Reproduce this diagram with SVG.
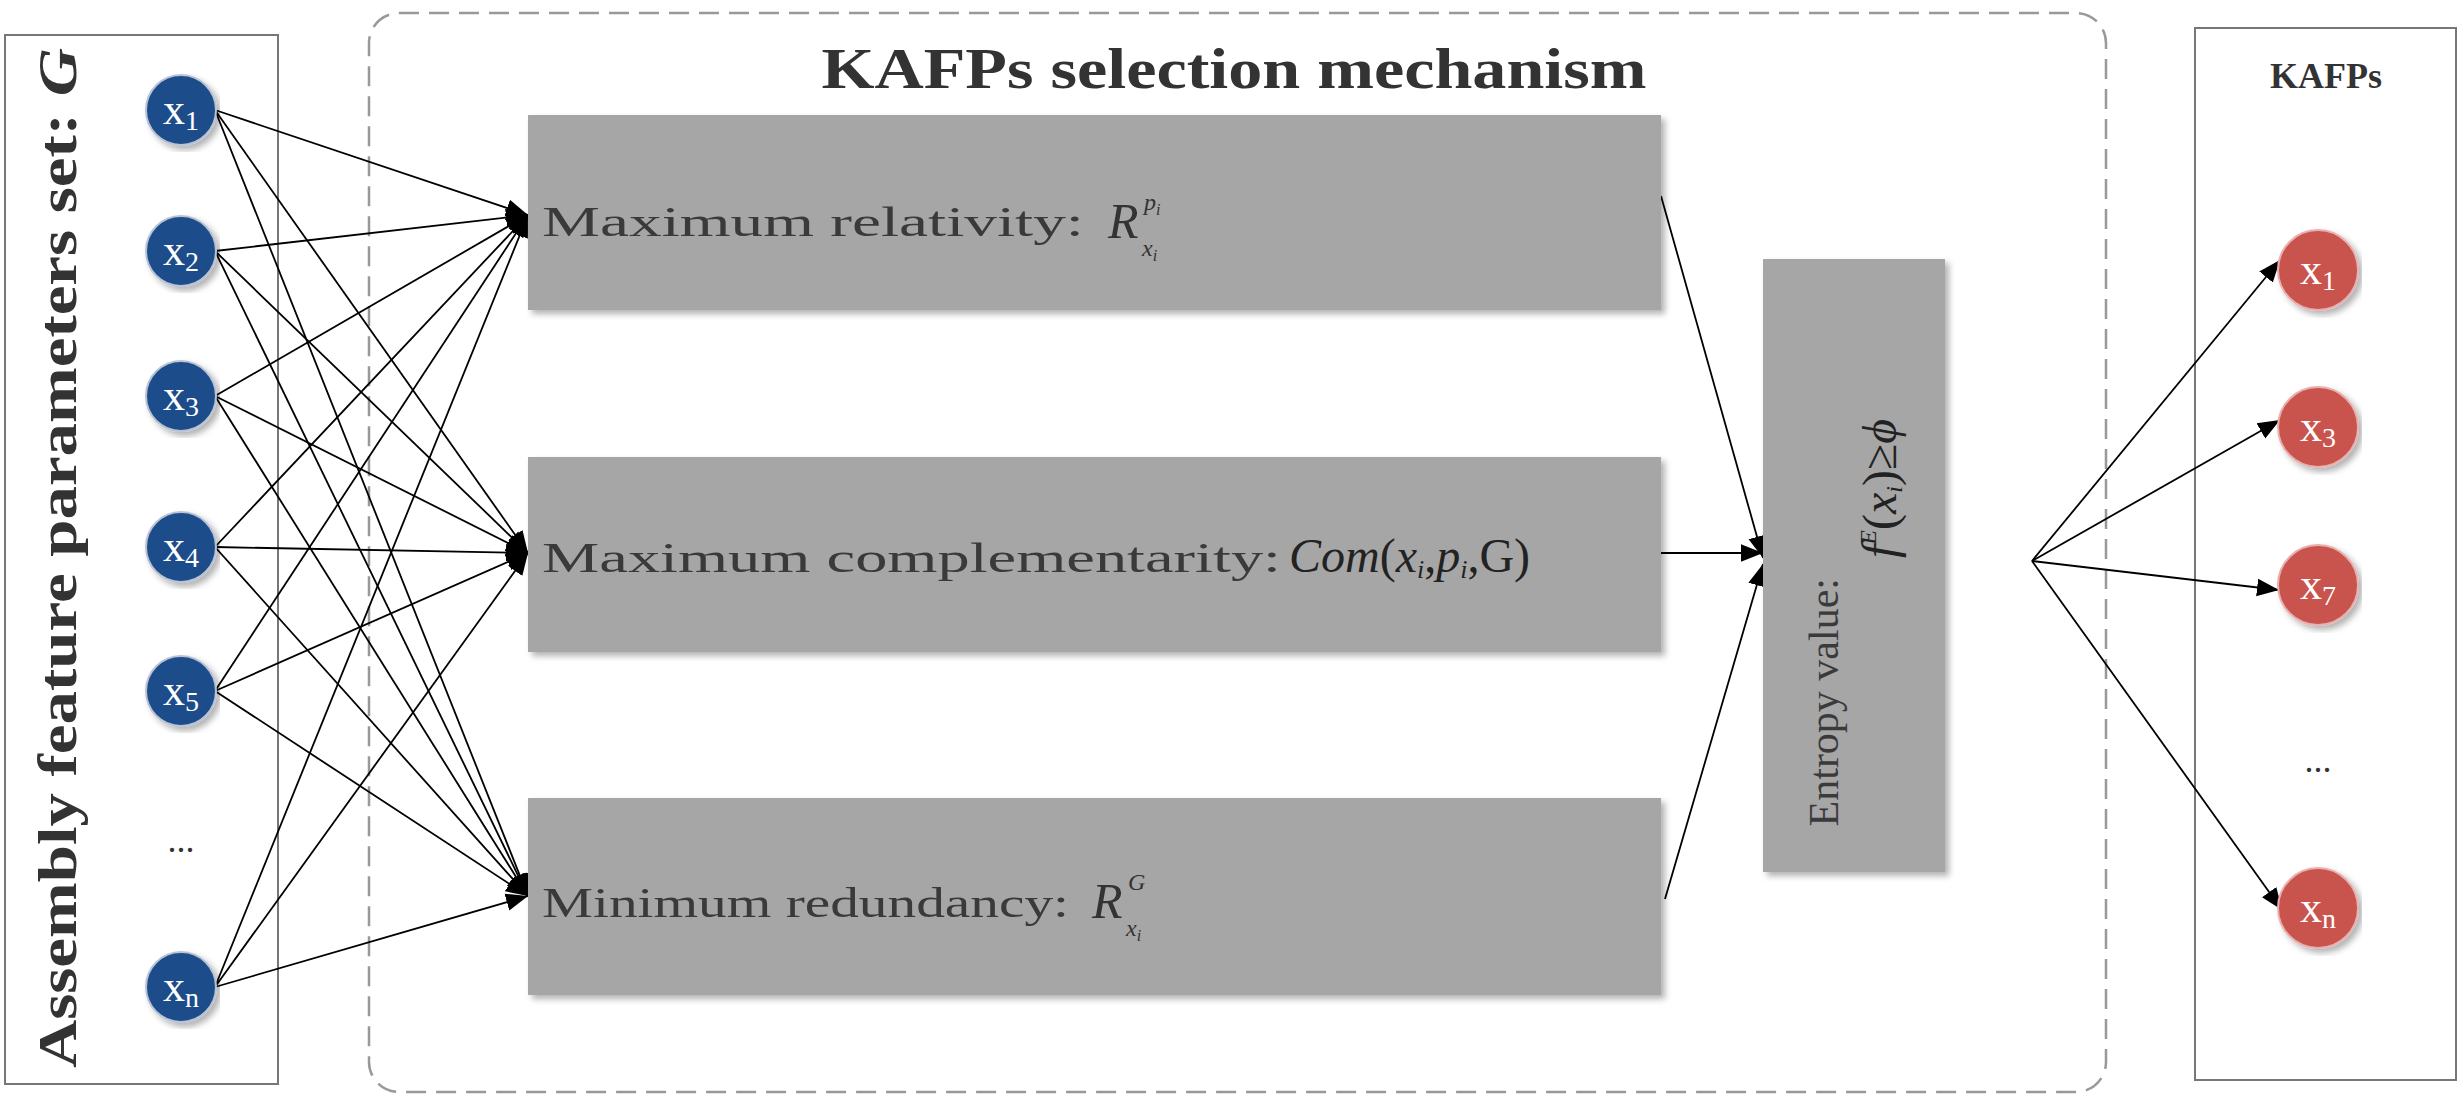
<svg xmlns="http://www.w3.org/2000/svg" width="2464" height="1115" viewBox="0 0 2464 1115">
<defs>
<marker id="ah" viewBox="0 0 10 10" refX="10" refY="5" markerWidth="9" markerHeight="9" markerUnits="userSpaceOnUse" orient="auto"><path d="M0,0 L10,5 L0,10 z" fill="#000"/></marker>
<marker id="ah2" viewBox="0 0 10 10" refX="10" refY="5" markerWidth="22" markerHeight="22" markerUnits="userSpaceOnUse" orient="auto"><path d="M0,1 L10,5 L0,9 z" fill="#000"/></marker>
<filter id="sh" x="-5%" y="-5%" width="110%" height="115%"><feDropShadow dx="4" dy="4" stdDeviation="3" flood-color="#000" flood-opacity="0.3"/></filter>
</defs>
<style>
.t{font-family:"Liberation Serif",serif}
.gb{fill:#a6a6a6;filter:url(#sh)}
.bl{fill:#1f4e8a;stroke:#b8c4d6;stroke-width:2;filter:url(#sh)}
.rd{fill:#c9534d;stroke:#e8b0ae;stroke-width:2;filter:url(#sh)}
.nt{fill:#fff;font-size:44px}
.bt{fill:#3a3a3a;font-size:42px}
.ln{stroke:#000;stroke-width:1.8;fill:none;marker-end:url(#ah2)}
</style>
<rect width="2464" height="1115" fill="#fff"/>
<g id="inputSet">
<rect x="5" y="35" width="273" height="1049" fill="#fff" stroke="#777" stroke-width="2"/>
<text class="t" font-weight="bold" font-size="54" fill="#333" transform="translate(76,558) rotate(-90)" text-anchor="middle" textLength="1020" lengthAdjust="spacingAndGlyphs">Assembly feature parameters set: <tspan font-style="italic">G</tspan></text>
</g>
<g id="mechanism">
<rect x="369" y="13" width="1737" height="1079" rx="30" fill="#fff" stroke="#999" stroke-width="2.5" stroke-dasharray="20,10"/>
<text class="t" x="1234" y="88" font-weight="bold" font-size="58" fill="#333" text-anchor="middle" textLength="825" lengthAdjust="spacingAndGlyphs">KAFPs selection mechanism</text>
</g>
<g id="outputSet">
<rect x="2195" y="28" width="261" height="1052" fill="#fff" stroke="#777" stroke-width="2"/>
<text class="t" x="2326" y="88" font-weight="bold" font-size="36" fill="#333" text-anchor="middle">KAFPs</text>
</g>
<g id="connectors">
<g id="c1">
<line class="ln" x1="215" y1="110" x2="528" y2="215"/><line class="ln" x1="215" y1="110" x2="528" y2="553"/><line class="ln" x1="215" y1="110" x2="528" y2="896"/>
<line class="ln" x1="215" y1="251" x2="528" y2="215"/><line class="ln" x1="215" y1="251" x2="528" y2="553"/><line class="ln" x1="215" y1="251" x2="528" y2="896"/>
<line class="ln" x1="215" y1="396" x2="528" y2="215"/><line class="ln" x1="215" y1="396" x2="528" y2="553"/><line class="ln" x1="215" y1="396" x2="528" y2="896"/>
<line class="ln" x1="215" y1="547" x2="528" y2="215"/><line class="ln" x1="215" y1="547" x2="528" y2="553"/><line class="ln" x1="215" y1="547" x2="528" y2="896"/>
<line class="ln" x1="215" y1="691" x2="528" y2="215"/><line class="ln" x1="215" y1="691" x2="528" y2="553"/><line class="ln" x1="215" y1="691" x2="528" y2="896"/>
<line class="ln" x1="215" y1="987" x2="528" y2="215"/><line class="ln" x1="215" y1="987" x2="528" y2="553"/><line class="ln" x1="215" y1="987" x2="528" y2="896"/>
</g>
<line class="ln" x1="1661" y1="196" x2="1763" y2="558"/>
<line class="ln" x1="1661" y1="553" x2="1763" y2="553"/>
<line class="ln" x1="1665" y1="899" x2="1763" y2="564"/>
<line class="ln" x1="2032" y1="561" x2="2280" y2="260"/>
<line class="ln" x1="2032" y1="561" x2="2280" y2="420"/>
<line class="ln" x1="2032" y1="561" x2="2279" y2="590"/>
<line class="ln" x1="2032" y1="561" x2="2282" y2="910"/>
</g>
<g id="nodesIn" class="t">
<g id="in1"><circle class="bl" cx="181" cy="110" r="35"/><text class="nt" x="181" y="124" text-anchor="middle">x<tspan font-size="28" dy="6">1</tspan></text></g>
<g id="in2"><circle class="bl" cx="181" cy="251" r="35"/><text class="nt" x="181" y="265" text-anchor="middle">x<tspan font-size="28" dy="6">2</tspan></text></g>
<g id="in3"><circle class="bl" cx="181" cy="396" r="35"/><text class="nt" x="181" y="410" text-anchor="middle">x<tspan font-size="28" dy="6">3</tspan></text></g>
<g id="in4"><circle class="bl" cx="181" cy="547" r="35"/><text class="nt" x="181" y="561" text-anchor="middle">x<tspan font-size="28" dy="6">4</tspan></text></g>
<g id="in5"><circle class="bl" cx="181" cy="691" r="35"/><text class="nt" x="181" y="705" text-anchor="middle">x<tspan font-size="28" dy="6">5</tspan></text></g>
<text x="181" y="852" font-size="36" fill="#333" text-anchor="middle">...</text>
<g id="inN"><circle class="bl" cx="181" cy="987" r="35"/><text class="nt" x="181" y="1001" text-anchor="middle">x<tspan font-size="28" dy="6">n</tspan></text></g>
</g>
<g id="boxRel" class="t"><rect class="gb" x="528" y="115" width="1133" height="195"/>
<text class="bt" x="542" y="236" textLength="542" lengthAdjust="spacingAndGlyphs">Maximum relativity:</text>
<text x="1108" y="238" font-size="50" font-style="italic" fill="#333">R</text><text x="1144" y="210" font-size="24" font-style="italic" fill="#333">p<tspan font-size="16" dy="5">i</tspan></text><text x="1142" y="256" font-size="24" font-style="italic" fill="#333">x<tspan font-size="16" dy="5">i</tspan></text>
</g>
<g id="boxCom" class="t"><rect class="gb" x="528" y="457" width="1133" height="195"/>
<text class="bt" x="542" y="572" textLength="739" lengthAdjust="spacingAndGlyphs">Maximum complementarity:</text>
<text x="1289" y="572" font-size="48" fill="#222"><tspan font-style="italic">Com</tspan>(<tspan font-style="italic">x</tspan><tspan font-size="26" font-style="italic" dy="6">i</tspan><tspan dy="-6">,</tspan><tspan font-style="italic">p</tspan><tspan font-size="26" font-style="italic" dy="6">i</tspan><tspan dy="-6">,G)</tspan></text>
</g>
<g id="boxRed" class="t"><rect class="gb" x="528" y="798" width="1133" height="197"/>
<text class="bt" x="542" y="917" textLength="527" lengthAdjust="spacingAndGlyphs">Minimum redundancy:</text>
<text x="1092" y="918" font-size="50" font-style="italic" fill="#333">R</text><text x="1128" y="890" font-size="24" font-style="italic" fill="#333">G</text><text x="1126" y="936" font-size="24" font-style="italic" fill="#333">x<tspan font-size="16" dy="5">i</tspan></text>
</g>
<g id="entropy" class="t"><rect class="gb" x="1763" y="259" width="182" height="613"/>
<text transform="translate(1838,566) rotate(-90)" text-anchor="middle" font-size="42" fill="#3a3a3a"><tspan x="0" dy="0" text-anchor="end" dx="-12">Entropy value:</tspan></text>
<text transform="translate(1838,566) rotate(-90)" font-size="48" fill="#222" x="-10"><tspan x="8" dy="58" font-style="italic">f</tspan><tspan font-size="24" font-style="italic" dy="-20">E</tspan><tspan dy="20">(</tspan><tspan font-style="italic">x</tspan><tspan font-size="24" font-style="italic" dy="6">i</tspan><tspan dy="-6">)≥</tspan><tspan font-style="italic">ϕ</tspan></text>
</g>
<g id="nodesOut" class="t">
<g id="out1"><circle class="rd" cx="2318" cy="270" r="40"/><text class="nt" x="2318" y="284" text-anchor="middle">x<tspan font-size="28" dy="6">1</tspan></text></g>
<g id="out3"><circle class="rd" cx="2318" cy="427" r="40"/><text class="nt" x="2318" y="441" text-anchor="middle">x<tspan font-size="28" dy="6">3</tspan></text></g>
<g id="out7"><circle class="rd" cx="2318" cy="585" r="40"/><text class="nt" x="2318" y="599" text-anchor="middle">x<tspan font-size="28" dy="6">7</tspan></text></g>
<text x="2318" y="772" font-size="36" fill="#333" text-anchor="middle">...</text>
<g id="outN"><circle class="rd" cx="2318" cy="908" r="40"/><text class="nt" x="2318" y="922" text-anchor="middle">x<tspan font-size="28" dy="6">n</tspan></text></g>
</g>
</svg>
